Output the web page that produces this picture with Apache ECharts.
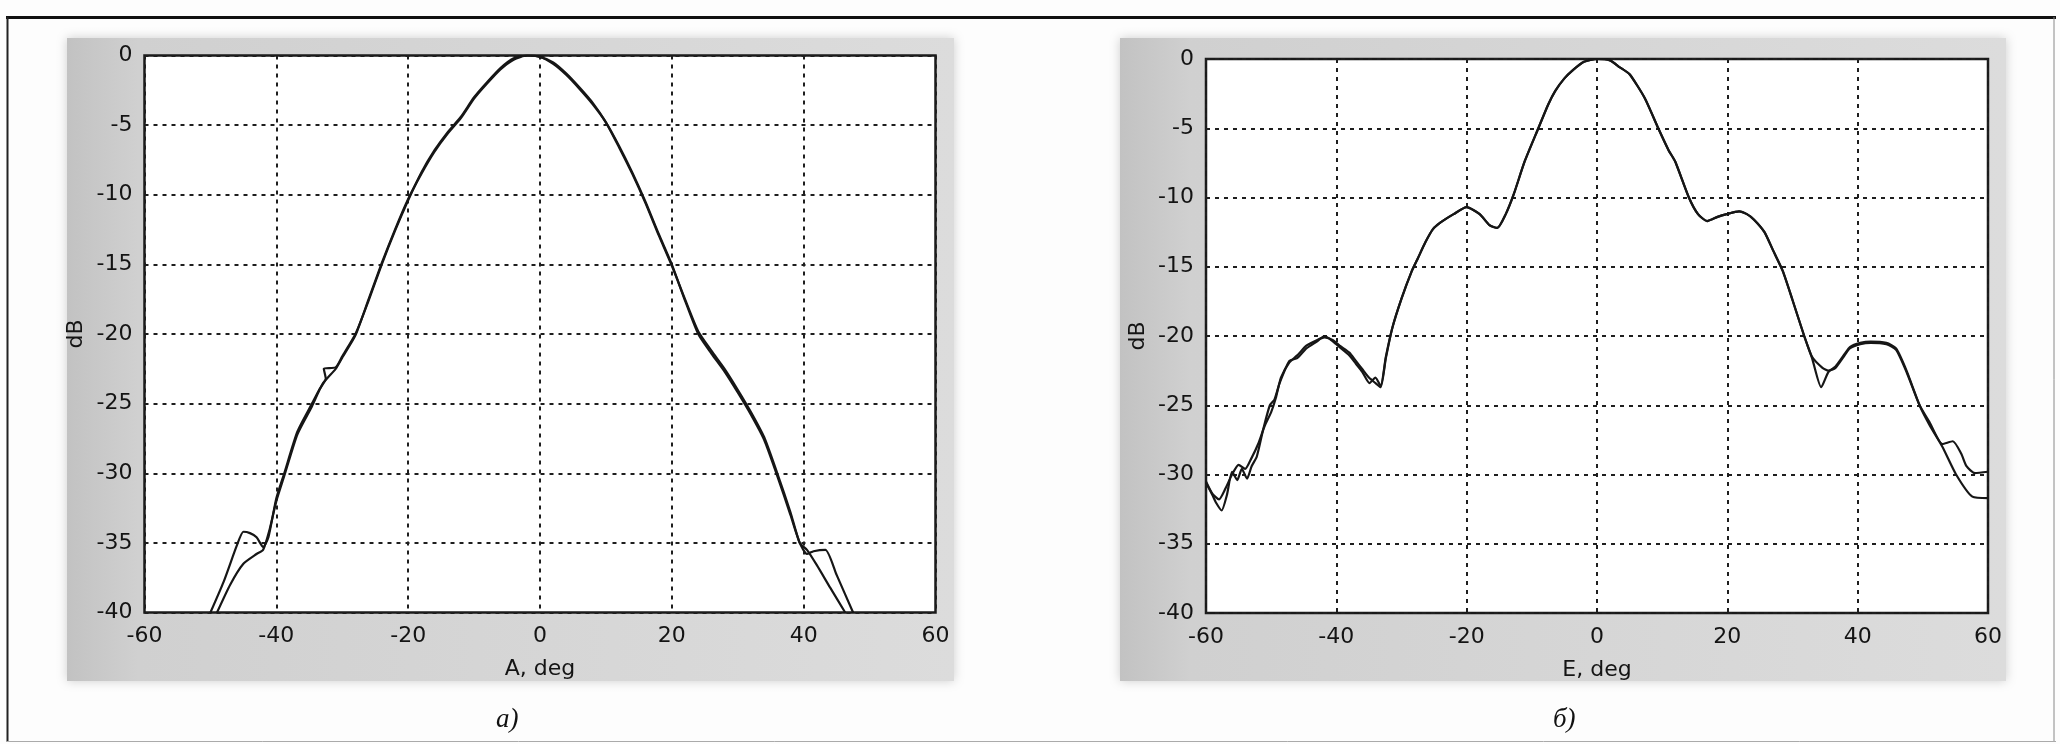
<!DOCTYPE html>
<html>
<head>
<meta charset="utf-8">
<script src="https://cdn.jsdelivr.net/npm/echarts@6/dist/echarts.min.js"></script>
<style>
html,body{margin:0;padding:0;background:#fdfdfd;}
#c{width:2060px;height:744px;}
</style>
</head>
<body>
<div id="c"></div>
<script>
// ---- Data ----
const xTicks = [-60, -40, -20, 0, 20, 40, 60];
const yTicks = [0, -5, -10, -15, -20, -25, -30, -35, -40];

// Panel a) : azimuth pattern
const aMeasAngle = [-50, -48, -46, -45, -44, -43, -42, -41.2, -40, -38.8, -36.8, -34.6, -33.5, -32.5, -32.8, -31, -30, -28, -26, -24, -22, -20, -18, -16, -14, -12, -10, -8, -6, -4, -2, 0, 2, 4, 6, 8, 10, 12, 14, 16, 18, 20, 22, 24, 26, 28, 30, 32, 34, 36, 38, 39.4, 40.5, 41.5, 43.3, 45, 47.5];
const aMeasDb    = [-40, -37.8, -35.2, -34.2, -34.3, -34.6, -35.3, -34.6, -31.8, -30, -27, -25, -24, -23.2, -22.5, -22.4, -21.6, -20, -17.6, -15, -12.6, -10.4, -8.4, -6.8, -5.5, -4.4, -3, -1.9, -0.9, -0.2, 0, -0.1, -0.6, -1.4, -2.4, -3.5, -4.8, -6.5, -8.4, -10.5, -12.8, -15, -17.6, -20, -21.4, -22.7, -24.2, -25.8, -27.6, -30.2, -33, -35, -35.8, -35.6, -35.5, -37.3, -40];
const aTheoAngle = [-49, -47, -45, -43, -42, -41, -40, -38.8, -36.8, -34.6, -33, -31, -30, -28, -26, -24, -22, -20, -18, -16, -14, -12, -10, -8, -6, -4, -2, 0, 2, 4, 6, 8, 10, 12, 14, 16, 18, 20, 22, 24, 26, 28, 30, 32, 34, 36, 38, 39.4, 40.5, 42, 44, 46.3];
const aTheoDb    = [-40, -38, -36.5, -35.8, -35.5, -34, -32, -30.2, -27.2, -25.2, -23.6, -22.5, -21.7, -20.1, -17.5, -14.9, -12.5, -10.3, -8.5, -6.9, -5.6, -4.5, -3.1, -2, -1, -0.3, 0, -0.1, -0.5, -1.3, -2.3, -3.4, -4.8, -6.6, -8.5, -10.6, -12.9, -15.1, -17.5, -19.8, -21.2, -22.5, -24, -25.6, -27.4, -30, -32.8, -35, -35.5, -36.6, -38.2, -40];

// Panel б) : elevation pattern
const eMeasAngle = [-60, -59, -58.5, -57.6, -56.8, -56, -55.2, -54.5, -53.7, -53, -52.2, -51.2, -50.2, -49.5, -48.7, -47.2, -46, -44.6, -43, -41.8, -40.5, -39.5, -38, -37, -36, -34.9, -34, -33.2, -32.4, -31.4, -30, -28.5, -27.5, -26.3, -25.2, -24, -22, -20, -18, -16.5, -15.3, -14, -12.8, -11.1, -9, -7.5, -6.4, -5, -3.7, -2, 0, 2, 3.5, 5, 7.3, 9.4, 11, 12, 14.1, 15.5, 16.9, 18.5, 19.9, 21.8, 23, 24.1, 25.7, 27, 28.5, 30, 31.8, 33, 34.6, 35.5, 36.6, 38, 38.8, 40.4, 42, 44.4, 45.9, 47.5, 49.5, 51, 53, 54.6, 55.9, 56.7, 58, 60];
const eMeasDb    = [-30.6, -31.5, -32, -32.6, -31.5, -29.8, -30.4, -29.6, -30.3, -29.4, -28.7, -26.7, -25, -24.6, -23.4, -21.8, -21.6, -20.9, -20.4, -20, -20.4, -20.8, -21.4, -22, -22.6, -23.4, -23, -23.6, -21.5, -19.4, -17.3, -15.4, -14.4, -13.2, -12.3, -11.8, -11.2, -10.7, -11.2, -12, -12.2, -11.2, -9.8, -7.4, -5, -3.3, -2.3, -1.4, -0.8, -0.2, 0, -0.1, -0.6, -1.1, -2.8, -5, -6.6, -7.4, -10, -11.2, -11.7, -11.4, -11.2, -11, -11.2, -11.6, -12.5, -13.8, -15.3, -17.4, -20, -21.5, -22.3, -22.5, -22.3, -21.4, -20.9, -20.6, -20.5, -20.6, -21, -22.6, -25, -26.2, -27.8, -27.6, -28.5, -29.4, -29.9, -29.8];
const eTheoAngle = [-60, -59, -58, -57, -56, -55, -54, -53, -52, -51, -50, -49.3, -48.5, -47.2, -46, -44.6, -43, -41.8, -40.5, -39.5, -38, -37, -36, -35, -34, -33.2, -32.4, -31.4, -30, -28.5, -27.5, -26.3, -25.2, -24, -22, -20, -18, -16.5, -15.3, -14, -12.8, -11.1, -9, -7.5, -6.4, -5, -3.7, -2, 0, 2, 3.5, 5, 7.3, 9.4, 11, 12, 14.1, 15.5, 16.9, 18.5, 19.9, 21.8, 23, 24.1, 25.7, 27, 28.5, 30, 31.8, 33, 34.4, 35.5, 36.6, 38, 38.8, 40.4, 42, 44.4, 45.9, 47.5, 49.5, 51, 53, 55.1, 57.6, 60];
const eTheoDb    = [-30.5, -31.4, -31.8, -31, -30, -29.3, -29.6, -28.8, -27.8, -26.5, -25.5, -24.5, -23, -21.9, -21.4, -20.7, -20.3, -20.1, -20.3, -20.7, -21.2, -21.8, -22.4, -23, -23.4, -23.7, -21.6, -19.4, -17.3, -15.4, -14.4, -13.2, -12.3, -11.8, -11.2, -10.7, -11.2, -12, -12.2, -11.2, -9.8, -7.4, -5, -3.3, -2.3, -1.4, -0.8, -0.2, 0, -0.1, -0.6, -1.1, -2.8, -5, -6.6, -7.4, -10, -11.2, -11.7, -11.4, -11.2, -11, -11.2, -11.6, -12.5, -13.8, -15.3, -17.4, -20, -21.6, -23.7, -22.6, -22.2, -21.3, -20.8, -20.5, -20.4, -20.5, -20.9, -22.5, -25, -26.4, -28, -30, -31.6, -31.7];

const zip = (xs, ys) => xs.map((x, i) => [x, ys[i]]);

// ---- Layout / style ----
const LINE = '#161616';
const TXT = '#141414';
const FONT = '"DejaVu Sans", Arial, sans-serif';
const GRID_LINE = { color: '#1e1e1e', width: 2, type: [4, 5] };

function xAxis(gridIndex, name) {
  return {
    gridIndex, type: 'value', min: -60, max: 60, interval: 20,
    name, nameLocation: 'middle', nameGap: 46,
    nameTextStyle: { color: TXT, fontSize: 22, fontFamily: FONT },
    axisLine: { show: false }, axisTick: { show: false },
    axisLabel: { color: TXT, fontSize: 22, fontFamily: FONT, margin: 13,
      formatter: v => xTicks.includes(v) ? String(v) : '' },
    splitLine: { show: true, lineStyle: GRID_LINE }
  };
}
function yAxis(gridIndex) {
  return {
    gridIndex, type: 'value', min: -40, max: 0, interval: 5,
    name: 'dB', nameLocation: 'middle', nameGap: 57, nameRotate: 90,
    nameTextStyle: { color: TXT, fontSize: 22, fontFamily: FONT },
    axisLine: { show: false }, axisTick: { show: false },
    axisLabel: { color: TXT, fontSize: 22, fontFamily: FONT, margin: 12,
      formatter: v => yTicks.includes(v) ? String(v) : '' },
    splitLine: { show: true, lineStyle: GRID_LINE }
  };
}
function lineSeries(idx, data) {
  return {
    type: 'line', xAxisIndex: idx, yAxisIndex: idx, data,
    showSymbol: false, symbol: 'none', clip: true, smooth: 0.2,
    lineStyle: { color: LINE, width: 2.2 }, z: 5, silent: true, animation: false
  };
}

const panelFill = () => new echarts.graphic.LinearGradient(0, 0, 1, 0, [
  { offset: 0, color: '#c2c2c2' }, { offset: 0.08, color: '#d0d0d0' }, { offset: 1, color: '#dcdcdc' }]);

const chart = echarts.init(document.getElementById('c'), null, { renderer: 'canvas' });
chart.setOption({
  animation: false,
  backgroundColor: '#fdfdfd',
  graphic: [
    // outer figure frame
    { type: 'line', shape: { x1: 6, y1: 17.5, x2: 2056, y2: 17.5 }, style: { stroke: '#111', lineWidth: 3 }, z: -1 },
    { type: 'line', shape: { x1: 7.5, y1: 17, x2: 7.5, y2: 742 }, style: { stroke: '#222', lineWidth: 2 }, z: -1 },
    { type: 'line', shape: { x1: 2054, y1: 17, x2: 2054, y2: 742 }, style: { stroke: '#888', lineWidth: 1 }, z: -1 },
    { type: 'line', shape: { x1: 6, y1: 741.5, x2: 2056, y2: 741.5 }, style: { stroke: '#aaa', lineWidth: 1 }, z: -1 },
    // gray figure panels
    { type: 'rect', shape: { x: 67, y: 38, width: 887, height: 643 }, z: -2,
      style: { fill: panelFill(), shadowBlur: 10, shadowColor: 'rgba(200,200,200,0.9)' } },
    { type: 'rect', shape: { x: 1120, y: 38, width: 886, height: 643 }, z: -2,
      style: { fill: panelFill(), shadowBlur: 10, shadowColor: 'rgba(200,200,200,0.9)' } },
    // captions
    { type: 'text', left: 496, top: 706, z: 10,
      style: { text: 'a)', fill: '#111', font: 'italic 27px "Liberation Serif", "Times New Roman", serif' } },
    { type: 'text', left: 1553, top: 706, z: 10,
      style: { text: 'б)', fill: '#111', font: 'italic 27px "Liberation Serif", "Times New Roman", serif' } }
  ],
  grid: [
    { left: 144.5, top: 55.5, width: 791, height: 557, show: true, backgroundColor: '#ffffff', borderColor: '#1a1a1a', borderWidth: 2.5 },
    { left: 1206, top: 59, width: 782, height: 554, show: true, backgroundColor: '#ffffff', borderColor: '#1a1a1a', borderWidth: 2.5 }
  ],
  xAxis: [xAxis(0, 'A, deg'), xAxis(1, 'E, deg')],
  yAxis: [yAxis(0), yAxis(1)],
  series: [
    lineSeries(0, zip(aMeasAngle, aMeasDb)),
    lineSeries(0, zip(aTheoAngle, aTheoDb)),
    lineSeries(1, zip(eMeasAngle, eMeasDb)),
    lineSeries(1, zip(eTheoAngle, eTheoDb))
  ]
});
</script>
</body>
</html>
